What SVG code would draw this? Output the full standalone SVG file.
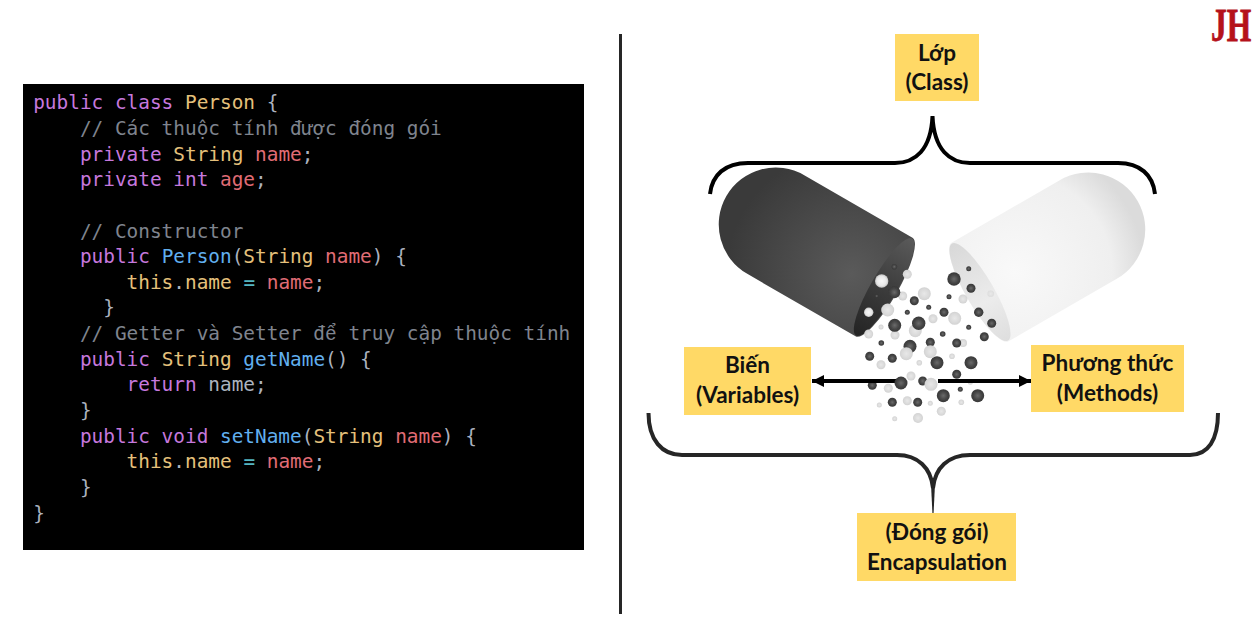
<svg xmlns="http://www.w3.org/2000/svg" width="1259" height="635" viewBox="0 0 1259 635">
<style>
.code{font-family:"DejaVu Sans Mono","Liberation Mono",monospace;font-size:19.4px;fill:#ABB2BF;white-space:pre}
.k{fill:#C678DD}.t{fill:#E5C07B}.v{fill:#E06C75}.c{fill:#7F848E}.f{fill:#61AFEF}.o{fill:#56B6C2}
.box{fill:#FFD966}
.lbl{font-family:Lato,"Noto Sans",sans-serif;font-weight:700;font-size:22.5px;fill:#111;text-anchor:middle}
.brace{fill:none;stroke-width:4;stroke-linecap:butt;stroke-linejoin:miter}
.arrow{stroke:#000;stroke-width:4;fill:none}
.d{fill:url(#gd)}.l{fill:url(#gl)}.b{fill:url(#gb)}
</style>
<defs>
<radialGradient id="gd"><stop offset="0" stop-color="#6a6a6a"/><stop offset=".65" stop-color="#444"/><stop offset="1" stop-color="#383838"/></radialGradient>
<radialGradient id="gl"><stop offset="0" stop-color="#e8e8e8"/><stop offset=".7" stop-color="#dadada"/><stop offset="1" stop-color="#d2d2d2"/></radialGradient>
<radialGradient id="gb"><stop offset="0" stop-color="#f8f8f8"/><stop offset=".7" stop-color="#e8e8e8"/><stop offset="1" stop-color="#c4c4c4"/></radialGradient>
<radialGradient id="cd" gradientUnits="userSpaceOnUse" cx="-35" cy="5" r="125"><stop offset="0" stop-color="#5a5a5a"/><stop offset="1" stop-color="#3a3a3a"/></radialGradient>
<linearGradient id="cdi" x1="0" y1="0" x2="0" y2="1"><stop offset="0" stop-color="#5a5a5a"/><stop offset=".5" stop-color="#3c3c3c"/><stop offset="1" stop-color="#242424"/></linearGradient>
<radialGradient id="cw" gradientUnits="userSpaceOnUse" cx="40" cy="0" r="130"><stop offset="0" stop-color="#f9f9f9"/><stop offset=".75" stop-color="#efefef"/><stop offset="1" stop-color="#dbdbdb"/></radialGradient>
<linearGradient id="cwi" x1="0" y1="0" x2="0" y2="1"><stop offset="0" stop-color="#d8d8d8"/><stop offset=".6" stop-color="#ececec"/><stop offset="1" stop-color="#dedede"/></linearGradient>
<filter id="soft" x="-5%" y="-5%" width="110%" height="110%"><feGaussianBlur stdDeviation="0.45"/></filter>
<marker id="ah" markerUnits="userSpaceOnUse" markerWidth="12" markerHeight="12" refX="12" refY="6" orient="auto"><path d="M0,0L12,6L0,12z" fill="#000"/></marker>
</defs>
<rect width="1259" height="635" fill="#fff"/>

<g id="code-panel">
<rect x="23" y="84" width="561" height="466" fill="#000"/>
<text class="code" x="33.200" y="109"><tspan class="k">public class</tspan> <tspan class="t">Person</tspan> {</text>
<text class="code" x="33.200" y="135"><tspan class="c">    // Các thuộc tính được đóng gói</tspan></text>
<text class="code" x="33.200" y="160.500">    <tspan class="k">private</tspan> <tspan class="t">String</tspan> <tspan class="v">name</tspan>;</text>
<text class="code" x="33.200" y="186">    <tspan class="k">private int</tspan> <tspan class="v">age</tspan>;</text>
<text class="code" x="33.200" y="237.500"><tspan class="c">    // Constructor</tspan></text>
<text class="code" x="33.200" y="263">    <tspan class="k">public</tspan> <tspan class="f">Person</tspan>(<tspan class="t">String</tspan> <tspan class="v">name</tspan>) {</text>
<text class="code" x="33.200" y="288.500">        <tspan class="t">this</tspan>.<tspan class="t">name</tspan> <tspan class="o">=</tspan> <tspan class="v">name</tspan>;</text>
<text class="code" x="33.200" y="314">      }</text>
<text class="code" x="33.200" y="340"><tspan class="c">    // Getter và Setter đ<tspan font-family="'Liberation Mono',monospace" font-size="19.5px">ể</tspan> truy cập thuộc tính</tspan></text>
<text class="code" x="33.200" y="365.500">    <tspan class="k">public</tspan> <tspan class="t">String</tspan> <tspan class="f">getName</tspan>() {</text>
<text class="code" x="33.200" y="391">        <tspan class="k">return</tspan> name;</text>
<text class="code" x="33.200" y="417">    }</text>
<text class="code" x="33.200" y="442.500">    <tspan class="k">public void</tspan> <tspan class="f">setName</tspan>(<tspan class="t">String</tspan> <tspan class="v">name</tspan>) {</text>
<text class="code" x="33.200" y="468">        <tspan class="t">this</tspan>.<tspan class="t">name</tspan> <tspan class="o">=</tspan> <tspan class="v">name</tspan>;</text>
<text class="code" x="33.200" y="493.500">    }</text>
<text class="code" x="33.200" y="519.500">}</text>
</g>

<line id="divider" x1="620.500" y1="34" x2="620.500" y2="614" stroke="#262626" stroke-width="3"/>

<g id="logo">
<text transform="translate(1211 41) scale(.67 1)" font-family="'Liberation Serif',serif" font-weight="700" font-size="47" fill="#B5121B" stroke="#B5121B" stroke-width=".8">JH</text>
</g>

<g id="capsule">
<g transform="translate(884 287) rotate(30)">
<path d="M14,0A14,57 0 0 1 0,57L-125,57A57,57 0 0 1 -125,-57L0,-57A14,57 0 0 1 14,0Z" fill="url(#cd)"/>
<ellipse cx="0" cy="0" rx="13" ry="56" fill="url(#cdi)"/>
</g>
<g transform="translate(980 292) rotate(-30)">
<path d="M-14,0A14,57 0 0 1 0,-57L125,-57A57,57 0 0 1 125,57L0,57A14,57 0 0 1 -14,0Z" fill="url(#cw)"/>
<ellipse cx="0" cy="0" rx="14" ry="56" fill="url(#cwi)"/>
</g>
</g>

<g id="particles" filter="url(#soft)">
<circle class="l" cx="915.300" cy="330.700" r="6.500"/><circle class="l" cx="963" cy="343" r="4"/><circle class="l" cx="895" cy="335" r="4.500"/><circle class="l" cx="902.700" cy="296" r="4.500"/>
<circle class="d" cx="954" cy="279" r="6.700"/><circle class="d" cx="971" cy="288.300" r="4.500"/><circle class="d" cx="968.700" cy="268.700" r="2.500"/><circle class="d" cx="949" cy="296.700" r="2.500"/>
<circle class="d" cx="914.300" cy="300.700" r="4.500"/><circle class="d" cx="928.700" cy="307.300" r="2.500"/><circle class="d" cx="944" cy="312.300" r="4.500"/><circle class="d" cx="978.700" cy="312.300" r="4.700"/>
<circle class="d" cx="907.300" cy="312.300" r="2.500"/><circle class="d" cx="991.700" cy="323.300" r="4.500"/><circle class="d" cx="968.700" cy="327.300" r="2.500"/><circle class="d" cx="894.700" cy="325.300" r="6.500"/>
<circle class="d" cx="918.700" cy="323.300" r="6.700"/><circle class="d" cx="942.700" cy="334" r="2.800"/><circle class="d" cx="984.300" cy="336.700" r="4.500"/><circle class="d" cx="881.300" cy="343" r="2.800"/>
<circle class="d" cx="930.300" cy="342.300" r="4.500"/><circle class="d" cx="910" cy="346.300" r="6.500"/><circle class="d" cx="956.700" cy="343" r="4.500"/><circle class="d" cx="869.700" cy="356.300" r="4.500"/>
<circle class="d" cx="892.300" cy="358.300" r="4.500"/><circle class="d" cx="937" cy="362.700" r="6.500"/><circle class="d" cx="971" cy="362.700" r="6.500"/><circle class="d" cx="956.700" cy="374.300" r="4.500"/>
<circle class="d" cx="922.700" cy="381" r="4.500"/><circle class="d" cx="872.300" cy="385.300" r="4.500"/><circle class="d" cx="960.300" cy="389.300" r="2.500"/><circle class="d" cx="943.300" cy="395.700" r="6.500"/>
<circle class="d" cx="977.700" cy="395.700" r="6.500"/><circle class="d" cx="892.300" cy="402.300" r="4.500"/><circle class="d" cx="917.700" cy="402.300" r="4.500"/><circle class="d" cx="894.300" cy="292.300" r="6"/>
<circle class="d" cx="894.300" cy="266.700" r="2.800"/><circle class="d" cx="876.700" cy="296" r="1.700"/>
<circle class="b" cx="881.700" cy="281" r="6.700"/><circle class="l" cx="907.300" cy="274.300" r="4.500"/><circle class="l" cx="924.300" cy="293.700" r="6.500"/><circle class="l" cx="963" cy="299" r="4.500"/>
<circle class="l" cx="990.700" cy="293.700" r="3.300" opacity=".6"/><circle class="l" cx="887.700" cy="310" r="6.500"/><circle class="b" cx="868.700" cy="312.300" r="4.700"/><circle class="l" cx="933" cy="318.700" r="4.500"/>
<circle class="l" cx="954.700" cy="318.300" r="6.500"/><circle class="l" cx="881" cy="327" r="2.500"/><circle class="l" cx="868.700" cy="334" r="4.500"/><circle class="l" cx="906.300" cy="353.700" r="6.500"/>
<circle class="l" cx="930.300" cy="351.700" r="6.500"/><circle class="l" cx="952" cy="356.300" r="2.800"/><circle class="l" cx="881" cy="364.700" r="4.500"/><circle class="l" cx="919.300" cy="362.700" r="2.800"/>
<circle class="l" cx="911" cy="376" r="4.500"/><circle class="l" cx="888.300" cy="388.300" r="4.500"/><circle class="l" cx="931" cy="384.300" r="6.500"/><circle class="l" cx="970.300" cy="382.300" r="2.500"/>
<circle class="l" cx="879.300" cy="405" r="2.500"/><circle class="l" cx="907.300" cy="400.700" r="4.500"/><circle class="l" cx="930.300" cy="403.300" r="2.500"/><circle class="l" cx="961.300" cy="402.300" r="2.800"/>
<circle class="l" cx="941.300" cy="411.300" r="4.500"/><circle class="l" cx="894.700" cy="418.700" r="2.500"/><circle class="l" cx="918" cy="418" r="5"/>
</g>

<g id="connectors">
<path class="brace" stroke="#000" d="M710,194C712,175 725,163 748,163L895,163C915,163 931,150 932.500,116C934,150 950,163 970,163L1118,163C1140,163 1153,175 1155,194"/>
<path class="brace" stroke="#262626" d="M648.500,413C648.500,440 662,455 682,455L897,455C918,455 931,468 933,488C935,468 948,455 970,455L1190,455C1208,455 1218,440 1218,413"/>
<path d="M931,484L935,484L933.600,513L932.400,513Z" fill="#262626"/>
<line class="arrow" x1="896" y1="381" x2="812" y2="381" marker-end="url(#ah)"/>
<line class="arrow" x1="938" y1="381" x2="1031" y2="381" marker-end="url(#ah)"/>
</g>
<circle class="d" cx="901" cy="383" r="6.500" filter="url(#soft)"/>

<g id="node-class">
<rect class="box" x="895" y="34" width="84" height="67"/>
<text class="lbl" x="937" y="61">Lớp</text>
<text class="lbl" x="937" y="90">(Class)</text>
</g>
<g id="node-variables">
<rect class="box" x="684" y="347" width="127" height="68"/>
<text class="lbl" x="747.500" y="373">Biến</text>
<text class="lbl" x="747.500" y="403">(Variables)</text>
</g>
<g id="node-methods">
<rect class="box" x="1031" y="345" width="153" height="67"/>
<text class="lbl" x="1107.500" y="371">Phương thức</text>
<text class="lbl" x="1107.500" y="401">(Methods)</text>
</g>
<g id="node-encapsulation">
<rect class="box" x="857" y="513" width="159" height="68"/>
<text class="lbl" x="937" y="540">(Đóng gói)</text>
<text class="lbl" x="937" y="570">Encapsulation</text>
</g>
</svg>
